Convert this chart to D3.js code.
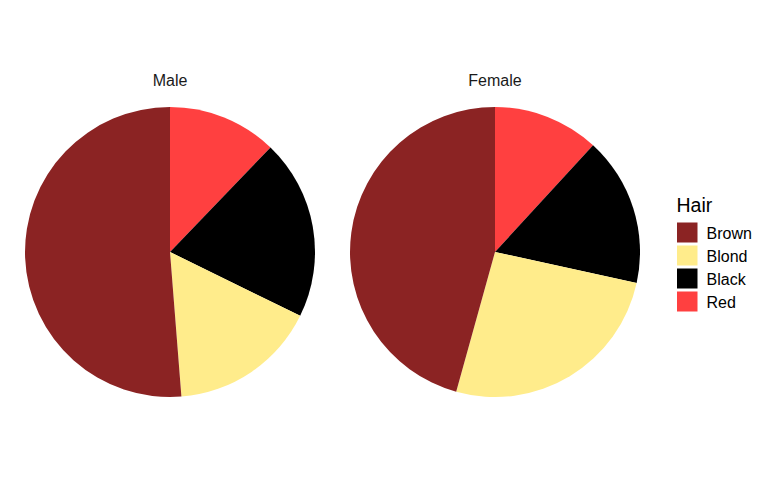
<!DOCTYPE html>
<html><head><meta charset="utf-8">
<script src="https://cdn.jsdelivr.net/npm/d3@7"></script>
<style>body{margin:0;background:#fff}svg{display:block;font-family:"Liberation Sans",Arial,sans-serif}</style>
</head><body><svg id="c" width="768" height="480"></svg>
<script>
const panels = ["Male", "Female"];
const hair = ["Brown", "Blond", "Black", "Red"];
const maleValues = [143, 46, 56, 34];
const femaleValues = [143, 81, 52, 37];
const colors = ["#8B2323", "#FFEC8B", "#000000", "#FF4040"];
// clockwise order from 12 o'clock
const drawOrder = ["Red", "Black", "Blond", "Brown"];

const svg = d3.select("#c");
const color = d3.scaleOrdinal().domain(hair).range(colors);
const cx = d3.scalePoint().domain(panels).range([170, 495]);
const radius = 145, cy = 252;
const dataByPanel = {Male: maleValues, Female: femaleValues};

const pie = d3.pie().sort(null).value(d => d.v);
const arc = d3.arc().innerRadius(0).outerRadius(radius);

panels.forEach(p => {
  const vals = dataByPanel[p];
  const data = drawOrder.map(h => ({h, v: vals[hair.indexOf(h)]}));
  const g = svg.append("g").attr("transform", `translate(${cx(p)},${cy})`);
  g.selectAll("path").data(pie(data)).join("path")
    .attr("d", arc).attr("fill", d => color(d.data.h));
  svg.append("text").attr("x", cx(p)).attr("y", 85.5).attr("text-anchor", "middle")
    .attr("font-size", 16).attr("fill", "#1a1a1a").text(p);
});

const lg = svg.append("g");
lg.append("text").attr("x", 676.5).attr("y", 211.5).attr("font-size", 19.5).attr("fill", "#000").text("Hair");
hair.forEach((h, i) => {
  const y = 222.5 + i * 23;
  lg.append("rect").attr("x", 677).attr("y", y).attr("width", 20.5).attr("height", 20).attr("fill", color(h));
  lg.append("text").attr("x", 706.5).attr("y", y + 16).attr("font-size", 16).attr("fill", "#000").text(h);
});
</script></body></html>
